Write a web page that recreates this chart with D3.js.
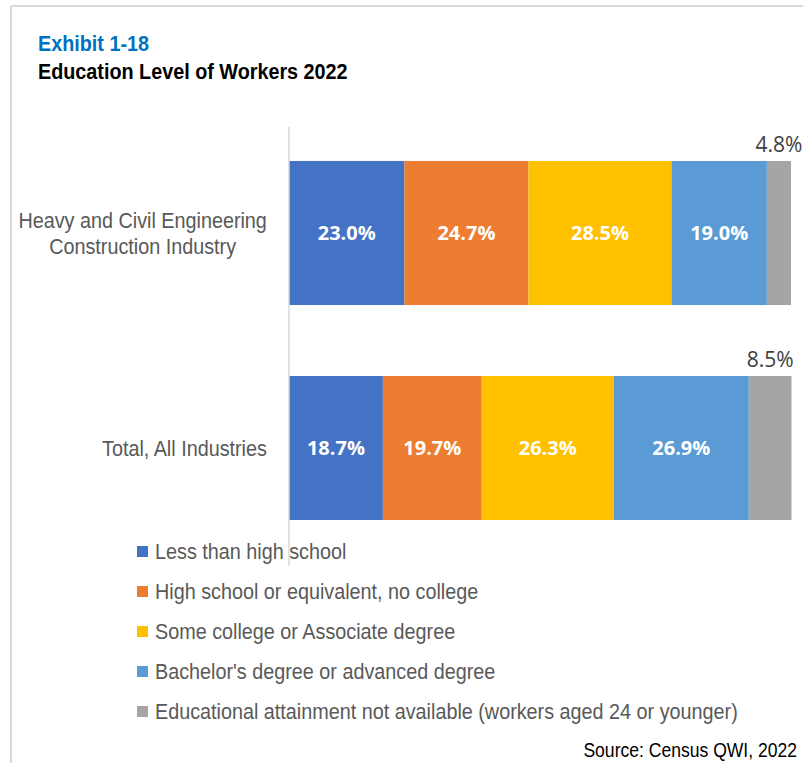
<!DOCTYPE html>
<html>
<head>
<meta charset="utf-8">
<script src="https://cdn.jsdelivr.net/npm/d3@7"></script>
<style>
  html, body { margin: 0; padding: 0; background: #fff; }
  svg { display: block; }
</style>
</head>
<body>
<svg id="chart" width="803" height="763"></svg>
<script>
// Industries (rows) and education categories (stacked segments)
const industries = ["Heavy and Civil Engineering Construction Industry", "Total, All Industries"];
const industryLines = [["Heavy and Civil Engineering", "Construction Industry"], ["Total, All Industries"]];
const categories = [
  "Less than high school",
  "High school or equivalent, no college",
  "Some college or Associate degree",
  "Bachelor's degree or advanced degree",
  "Educational attainment not available (workers aged 24 or younger)"
];
const colors = ["#4472C4", "#ED7D31", "#FFC000", "#5B9BD5", "#A5A5A5"];
// Percent shares, one array per industry in category order
const heavyCivil = [23.0, 24.7, 28.5, 19.0, 4.8];
const allIndustries = [18.7, 19.7, 26.3, 26.9, 8.5];
const seriesByIndustry = [heavyCivil, allIndustries];

const svg = d3.select("#chart");
const W = 803, H = 763;
const SANS = "Liberation Sans, Arial, sans-serif";
const NARROW = 0.9; // horizontal squeeze for the Arial-style text

// Condensed text helper: anchor point (x, y), drawn with a horizontal squeeze
function condensed(parent, x, y) {
  return parent.append("g")
    .attr("transform", `translate(${x},${y}) scale(${NARROW},1)`)
    .append("text");
}

// Frame lines (top and left)
svg.append("line").attr("x1", 11).attr("x2", W).attr("y1", 6).attr("y2", 6)
  .attr("stroke", "#d9d9d9").attr("stroke-width", 2);
svg.append("line").attr("x1", 11).attr("x2", 11).attr("y1", 6).attr("y2", H)
  .attr("stroke", "#d9d9d9").attr("stroke-width", 2);

// Titles
condensed(svg, 38, 51)
  .attr("font-family", SANS).attr("font-weight", "bold")
  .attr("font-size", 22).attr("fill", "#0070C0").text("Exhibit 1-18");
condensed(svg, 38, 79)
  .attr("font-family", SANS).attr("font-weight", "bold")
  .attr("font-size", 22).attr("fill", "#000").text("Education Level of Workers 2022");

// Scales
const x = d3.scaleLinear().domain([0, 100]).range([289, 791]);
const y = d3.scaleBand().domain(industries).range([127, 554])
  .paddingInner(0.33).paddingOuter(0.158);

// Stack the data
const rows = industries.map((name, i) => {
  const r = { industry: name };
  categories.forEach((c, j) => r[c] = seriesByIndustry[i][j]);
  return r;
});
const stacked = d3.stack().keys(categories)(rows);

const g = svg.append("g");
stacked.forEach((layer, li) => {
  g.selectAll(null).data(layer).join("rect")
    .attr("x", d => x(d[0]))
    .attr("y", d => y(d.data.industry))
    .attr("width", d => x(d[1]) - x(d[0]))
    .attr("height", y.bandwidth())
    .attr("fill", colors[li]);
});

// Vertical category axis line
svg.append("line").attr("x1", 289).attr("x2", 289).attr("y1", 127).attr("y2", 566)
  .attr("stroke", "#d9d9d9").attr("stroke-width", 1.5);

// Value labels: inside segments (white bold), last segment above the bar
stacked.forEach((layer, li) => {
  layer.forEach(d => {
    const v = d[1] - d[0];
    const cx = (x(d[0]) + x(d[1])) / 2;
    if (li < 4) {
      svg.append("text")
        .attr("x", cx).attr("y", y(d.data.industry) + y.bandwidth() / 2 + 7)
        .attr("text-anchor", "middle")
        .attr("font-family", "Open Sans, sans-serif").attr("font-weight", "bold")
        .attr("font-size", 20).attr("fill", "#fff")
        .text(v.toFixed(1) + "%");
    } else {
      svg.append("text")
        .attr("x", cx).attr("y", y(d.data.industry) - 9)
        .attr("text-anchor", "middle")
        .attr("font-family", "Open Sans, sans-serif")
        .attr("font-size", 21).attr("fill", "#404040")
        .text(v.toFixed(1) + "%");
    }
  });
});

// Category labels: block right-aligned to the label area, lines centred within it
const labelRight = 267, lineH = 26;
industries.forEach((name, i) => {
  const lines = industryLines[i];
  const cy = y(name) + y.bandwidth() / 2;
  const t = svg.append("text")
    .attr("text-anchor", "middle")
    .attr("font-family", SANS)
    .attr("font-size", 22).attr("fill", "#595959");
  lines.forEach((ln, k) => {
    t.append("tspan").attr("x", 0)
      .attr("y", 8 + (k - (lines.length - 1) / 2) * lineH)
      .text(ln);
  });
  const maxW = d3.max(t.selectAll("tspan").nodes(), n => n.getComputedTextLength()) * NARROW;
  t.attr("transform", `translate(${labelRight - maxW / 2},${cy}) scale(${NARROW},1)`);
});

// Legend
const legend = svg.append("g");
categories.forEach((c, i) => {
  const ly = 551 + i * 40;
  legend.append("rect").attr("x", 137).attr("y", ly - 5).attr("width", 11).attr("height", 11)
    .attr("fill", colors[i]);
  condensed(legend, 155, ly + 8)
    .attr("font-family", SANS)
    .attr("font-size", 22).attr("fill", "#595959").text(c);
});

// Source note
condensed(svg, 797, 757)
  .attr("text-anchor", "end")
  .attr("font-family", SANS)
  .attr("font-size", 19.5).attr("fill", "#000").text("Source: Census QWI, 2022");
</script>
</body>
</html>
